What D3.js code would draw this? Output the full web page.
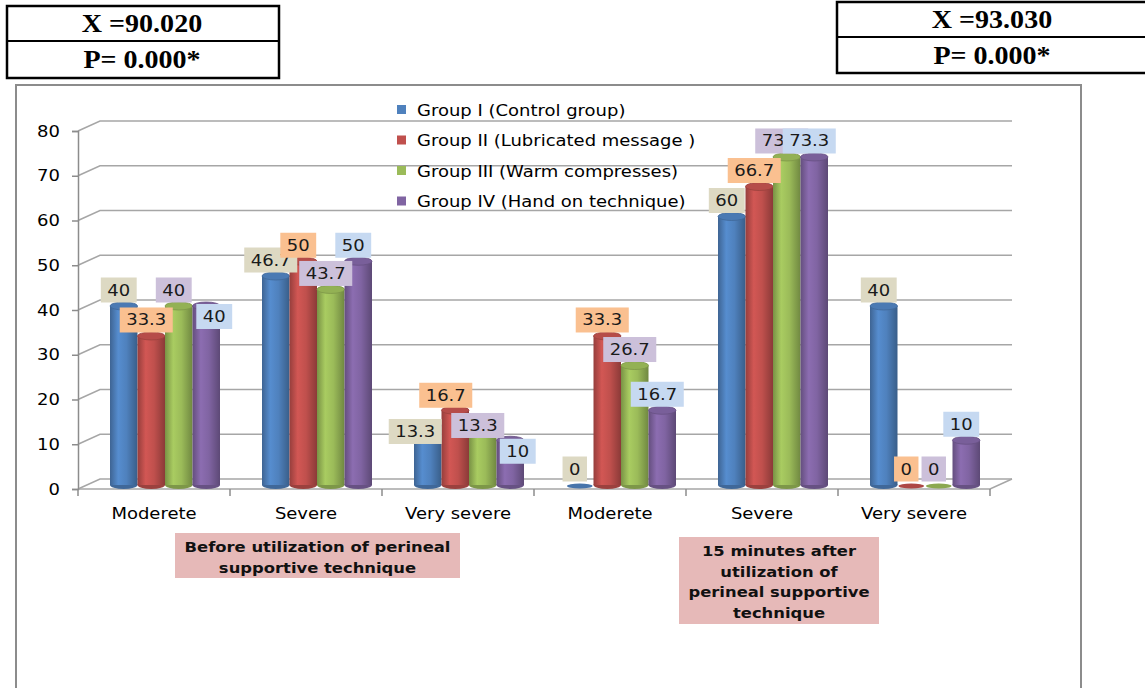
<!DOCTYPE html>
<html>
<head>
<meta charset="utf-8">
<script src="https://cdn.jsdelivr.net/npm/d3@7"></script>
<style>
  body { margin: 0; background: #fff; }
  svg { display: block; }
</style>
</head>
<body>
<div id="chart-area"></div>
<script>
// Chart data.
var categories = ["Moderete", "Severe", "Very severe", "Moderete", "Severe", "Very severe"];
var seriesNames = ["Group I (Control group)", "Group II (Lubricated message )",
                   "Group III (Warm compresses)", "Group IV (Hand on technique)"];
var group1 = [40, 46.7, 13.3, 0, 60, 40];
var group2 = [33.3, 50, 16.7, 33.3, 66.7, 0];
var group3 = [40, 43.7, 13.3, 26.7, 73.3, 0];
var group4 = [40, 50, 10, 16.7, 73.3, 10];
var yTicks = [0, 10, 20, 30, 40, 50, 60, 70, 80];
var statsLeft = ["X =90.020", "P= 0.000*"];
var statsRight = ["X =93.030", "P= 0.000*"];
var noteBefore = ["Before utilization of perineal", "supportive technique"];
var noteAfter = ["15 minutes after", "utilization  of", "perineal supportive", "technique"];

var seriesValues = [group1, group2, group3, group4];
var seriesColors = ["#4F81BD", "#C0504D", "#9BBB59", "#8064A2"];
var labelColors = ["#DDD9C3", "#FAC090", "#CCC0DA", "#C6D9F1"];

// Label nudges (series-category) where the original moved labels to avoid collisions.
var labelNudge = {
    "3-0": [13, 26.5],
    "0-2": [-7.5, 22],
    "1-2": [-4.5, 1],
    "2-2": [0, 16],
    "3-2": [12.5, 27]
};

var width = 1145, height = 688;
var svg = d3.select("#chart-area")
    .append("svg")
    .attr("width", width)
    .attr("height", height);

var chartFont = "'DejaVu Sans', sans-serif";
var sx = 1.2; // the original text is stretched horizontally

// helper: horizontally stretched text
function stretchedText(parent, x, y, str, opts) {
    opts = opts || {};
    var t = parent.append("text")
        .attr("transform", "translate(" + x + "," + y + ") scale(" + (opts.scale || sx) + ",1)")
        .attr("text-anchor", opts.anchor || "middle")
        .attr("font-family", opts.family || chartFont)
        .attr("font-size", opts.size || 15)
        .attr("font-weight", opts.weight || "normal")
        .attr("fill", opts.fill || "#000")
        .text(str);
    return t;
}

// Outer chart frame (bottom edge runs off the page)
svg.append("rect")
    .attr("x", 16).attr("y", 85)
    .attr("width", 1065).attr("height", 640)
    .attr("fill", "none")
    .attr("stroke", "#8c8c8c")
    .attr("stroke-width", 2);

// Scales: front axis plane
var depth = {dx: 22, dy: -10};
var y = d3.scaleLinear().domain([0, 80]).range([489, 131]);
var x = d3.scaleBand().domain(d3.range(categories.length)).range([78, 990]);
var xInner = d3.scaleBand().domain(d3.range(4)).range([32, 142]);

// Back wall gridlines and the little diagonals to the front axis
var grid = svg.append("g").attr("stroke", "#a6a6a6").attr("stroke-width", 1.5).attr("fill", "none");
yTicks.forEach(function(t) {
    var yy = y(t);
    grid.append("path")
        .attr("d", "M" + 78 + "," + yy + "L" + (78 + depth.dx) + "," + (yy + depth.dy) +
                   "L" + (990 + depth.dx) + "," + (yy + depth.dy));
});
// floor
grid.append("path")
    .attr("d", "M78," + y(0) + "L990," + y(0) + "L" + (990 + depth.dx) + "," + (y(0) + depth.dy));

// Y axis (front)
var yAxis = d3.axisLeft(y).tickValues(yTicks).tickSize(6).tickPadding(4).tickFormat(d3.format("d"));
var yAxisG = svg.append("g")
    .attr("transform", "translate(78,0)")
    .call(yAxis);
yAxisG.select(".domain").attr("stroke", "#8c8c8c").attr("stroke-width", 1.5);
yAxisG.selectAll(".tick line").attr("stroke", "#8c8c8c").attr("stroke-width", 1.5);
yAxisG.selectAll(".tick text").remove();
yTicks.forEach(function(t) {
    stretchedText(svg, 60, y(t) + 5.5, String(t), {anchor: "end"});
});

// X axis ticks under the floor
var xTickG = svg.append("g").attr("stroke", "#8c8c8c").attr("stroke-width", 1.5);
d3.range(categories.length + 1).forEach(function(i) {
    var xx = i < categories.length ? x(i) : x(categories.length - 1) + x.bandwidth();
    xTickG.append("line").attr("x1", xx).attr("x2", xx).attr("y1", y(0)).attr("y2", y(0) + 7);
});
categories.forEach(function(c, i) {
    stretchedText(svg, x(i) + x.bandwidth() / 2, 519, c);
});

// Legend
var legend = svg.append("g");
seriesNames.forEach(function(name, i) {
    var ly = 110 + i * 30.5;
    legend.append("rect")
        .attr("x", 397).attr("y", ly - 5)
        .attr("width", 9).attr("height", 9)
        .attr("fill", seriesColors[i]);
    stretchedText(legend, 417, ly + 5.5, name, {anchor: "start"});
});

// Cylinder gradients
var defs = svg.append("defs");
seriesColors.forEach(function(c, i) {
    var g = defs.append("linearGradient")
        .attr("id", "cyl" + i)
        .attr("x1", "0%").attr("x2", "100%").attr("y1", "0%").attr("y2", "0%");
    g.append("stop").attr("offset", "0%").attr("stop-color", d3.color(c).darker(0.7));
    g.append("stop").attr("offset", "30%").attr("stop-color", d3.color(c).brighter(0.25));
    g.append("stop").attr("offset", "60%").attr("stop-color", c);
    g.append("stop").attr("offset", "100%").attr("stop-color", d3.color(c).darker(0.9));
});

var barW = xInner.bandwidth();
var ry = 4;
var base = y(0) - 4;

// Cylinders
seriesValues.forEach(function(vals, s) {
    var gBars = svg.append("g");
    vals.forEach(function(v, i) {
        var bx = x(i) + xInner(s);
        var top = y(v) - 4;
        var cx = bx + barW / 2;
        if (v > 0) {
            gBars.append("ellipse")
                .attr("cx", cx).attr("cy", base)
                .attr("rx", barW / 2).attr("ry", ry)
                .attr("fill", d3.color(seriesColors[s]).darker(0.6));
            gBars.append("rect")
                .attr("x", bx).attr("y", top)
                .attr("width", barW).attr("height", base - top)
                .attr("fill", "url(#cyl" + s + ")");
            gBars.append("ellipse")
                .attr("cx", cx).attr("cy", top)
                .attr("rx", barW / 2).attr("ry", ry)
                .attr("fill", d3.color(seriesColors[s]).darker(0.15))
                .attr("stroke", d3.color(seriesColors[s]).darker(0.6))
                .attr("stroke-width", 0.8);
        } else {
            gBars.append("ellipse")
                .attr("cx", cx).attr("cy", base + 1)
                .attr("rx", barW / 2 - 1).attr("ry", 2.5)
                .attr("fill", d3.color(seriesColors[s]).darker(0.3));
        }
    });
});

// Data labels on top of the cylinders
seriesValues.forEach(function(vals, s) {
    var gLabels = svg.append("g");
    vals.forEach(function(v, i) {
        var nudge = labelNudge[s + "-" + i] || [0, 0];
        var cx = x(i) + xInner(s) + barW / 2 - 5 + nudge[0];
        var bottom = y(v) - 7.5 + nudge[1];
        var lab = gLabels.append("g");
        var rect = lab.append("rect").attr("fill", labelColors[s]);
        var t = stretchedText(lab, cx, bottom - 7, String(v), {fill: "#1a1a1a"});
        var tw = t.node().getComputedTextLength() * sx;
        rect.attr("x", cx - tw / 2 - 6.5).attr("y", bottom - 25)
            .attr("width", tw + 13).attr("height", 25);
    });
});

// Notes under the categories
function note(x0, y0, w, h, lines, lineH, firstY) {
    svg.append("rect")
        .attr("x", x0).attr("y", y0).attr("width", w).attr("height", h)
        .attr("fill", "#E6B9B8");
    lines.forEach(function(l, i) {
        stretchedText(svg, x0 + w / 2, firstY + i * lineH, l,
            {weight: "bold", size: 14.5, scale: 1.13, fill: "#111"});
    });
}
note(175, 533, 285, 45, noteBefore, 20.5, 552);
note(679, 537, 200, 87, noteAfter, 20.5, 556);

// Statistic boxes at the top
function statBox(x0, y0, w, h, mid, lines, cx) {
    var g = svg.append("g");
    g.append("rect")
        .attr("x", x0).attr("y", y0).attr("width", w).attr("height", h)
        .attr("fill", "#fff").attr("stroke", "#000").attr("stroke-width", 2.5);
    g.append("line")
        .attr("x1", x0).attr("x2", x0 + w).attr("y1", mid).attr("y2", mid)
        .attr("stroke", "#000").attr("stroke-width", 2);
    stretchedText(g, cx, (y0 + mid) / 2 + 8.5, lines[0],
        {family: "'Liberation Serif', 'Times New Roman', serif", weight: "bold", size: 25.5, scale: 1.1});
    stretchedText(g, cx, (mid + y0 + h) / 2 + 8.5, lines[1],
        {family: "'Liberation Serif', 'Times New Roman', serif", weight: "bold", size: 25.5, scale: 1.1});
}
statBox(7, 6, 272, 72, 41, statsLeft, 142);
statBox(837, 2, 320, 71, 37, statsRight, 992);
</script>
</body>
</html>
